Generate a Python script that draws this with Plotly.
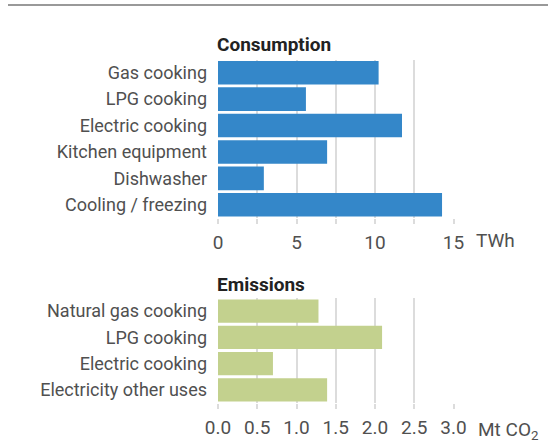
import plotly.graph_objects as go

cons_labels = ["Gas cooking", "LPG cooking", "Electric cooking", "Kitchen equipment", "Dishwasher", "Cooling / freezing"]
cons_values = [10.23, 5.6, 11.72, 6.95, 2.92, 14.27]
emis_labels = ["Natural gas cooking", "LPG cooking", "Electric cooking", "Electricity other uses"]
emis_values = [1.28, 2.09, 0.70, 1.39]
cons_ticks = [0, 2.5, 5, 7.5, 10, 12.5, 15]
cons_ticktext = ["0", "", "5", "", "10", "", "15"]
emis_ticks = [0, 0.5, 1.0, 1.5, 2.0, 2.5, 3.0]
emis_ticktext = ["0.0", "0.5", "1.0", "1.5", "2.0", "2.5", "3.0"]

FONT = "Roboto"
TXT = "#505050"
GRID = "#dcdcdc"
W, H = 548, 444

def px(x):
    return x / W

def py(y):
    return 1 - y / H

def f(size, color=TXT):
    return dict(family=FONT, size=size, color=color)

fig = go.Figure()
fig.add_trace(go.Bar(y=cons_labels, x=cons_values, orientation="h",
                     marker=dict(color="#3487c9", line=dict(width=0)),
                     xaxis="x", yaxis="y", hoverinfo="x+y"))
fig.add_trace(go.Bar(y=emis_labels, x=emis_values, orientation="h",
                     marker=dict(color="#c3d18e", line=dict(width=0)),
                     xaxis="x2", yaxis="y2", hoverinfo="x+y"))

xd = [px(218), px(453.5)]
common_x = dict(showgrid=True, gridcolor=GRID, gridwidth=1.5, zeroline=False,
                showline=False, ticks="outside", ticklen=5, tickcolor=GRID, tickwidth=1.5,
                tickfont=f(19), ticklabelstandoff=2, automargin=False,
                domain=xd, fixedrange=True)
common_y = dict(showgrid=False, zeroline=False, showline=False, ticks="",
                tickfont=f(18), ticklabelstandoff=10, automargin=False,
                autorange="reversed", fixedrange=True)

fig.update_layout(
    width=W, height=H,
    margin=dict(l=0, r=0, t=0, b=0),
    paper_bgcolor="white", plot_bgcolor="white",
    showlegend=False, bargap=0.11,
    xaxis=dict(common_x, range=[0, 15], tickvals=cons_ticks, ticktext=cons_ticktext, anchor="y"),
    yaxis=dict(common_y, domain=[py(218), py(59.5)], anchor="x"),
    xaxis2=dict(common_x, range=[0, 3], tickvals=emis_ticks, ticktext=emis_ticktext, anchor="y2"),
    yaxis2=dict(common_y, domain=[py(403), py(298)], anchor="x2"),
    shapes=[dict(type="line", xref="paper", yref="paper", x0=px(8), x1=1, y0=py(5), y1=py(5),
                 line=dict(color="#999999", width=2))],
    annotations=[
        dict(text="<b>Consumption</b>", xref="paper", yref="paper", x=px(215), y=py(45),
             xanchor="left", yanchor="middle", showarrow=False, font=f(19, "#222222")),
        dict(text="<b>Emissions</b>", xref="paper", yref="paper", x=px(215), y=py(284),
             xanchor="left", yanchor="middle", showarrow=False, font=f(19, "#222222")),
        dict(text="TWh", xref="paper", yref="paper", x=px(474), y=py(240),
             xanchor="left", yanchor="middle", showarrow=False, font=f(19)),
        dict(text="Mt CO<sub>2</sub>", xref="paper", yref="paper", x=px(476), y=py(430),
             xanchor="left", yanchor="middle", showarrow=False, font=f(19)),
    ],
)

fig.write_html("out.html", config={"displayModeBar": False},
               post_script="document.body.style.margin='0';document.body.style.overflow='hidden';")
